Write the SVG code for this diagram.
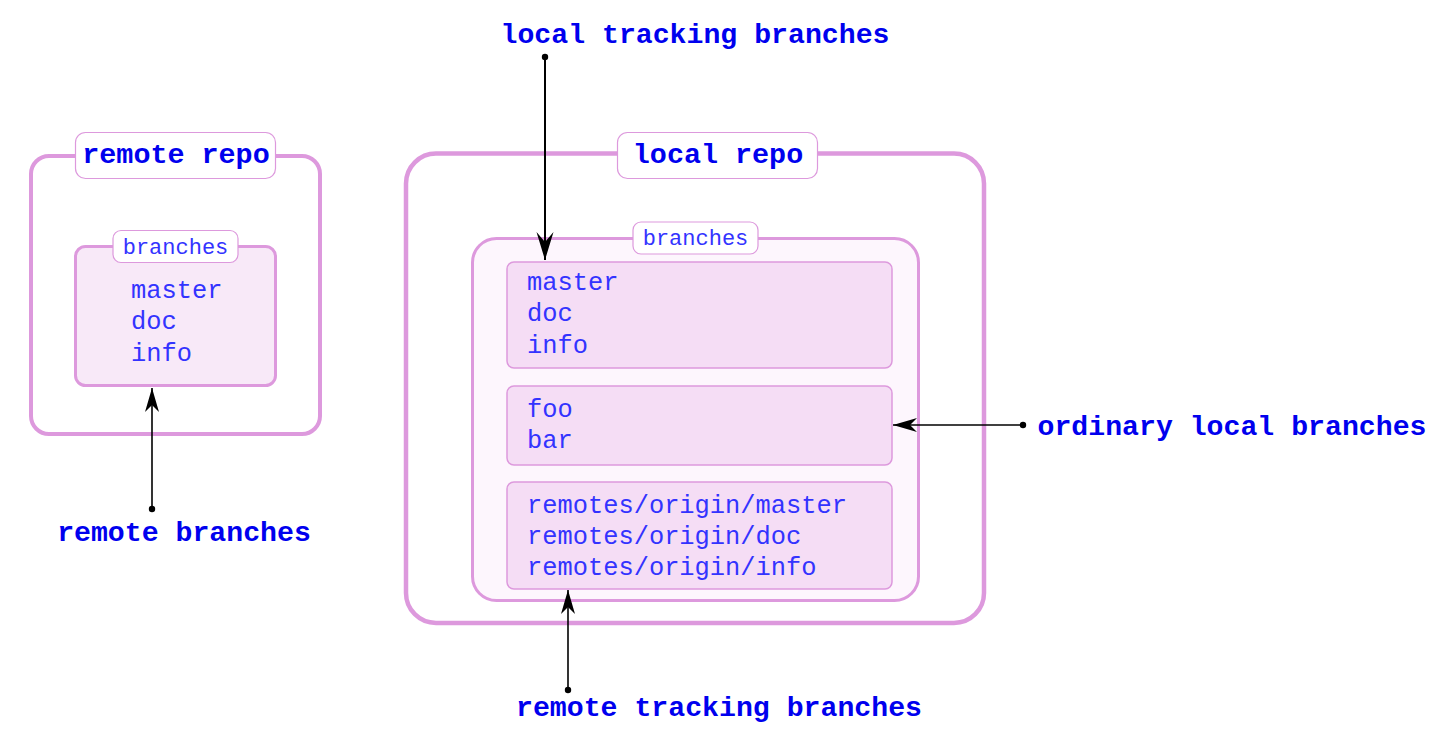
<svg xmlns="http://www.w3.org/2000/svg" width="1443" height="736" viewBox="0 0 1443 736">
<defs>
<style>
.repo{fill:none;stroke:#dd99dd}
.tbox{fill:#ffffff;stroke:#dd99dd;stroke-width:1.2}
.title{font-family:"Liberation Mono","Courier New",monospace;font-weight:bold;font-size:28.4px;fill:#0000ee;text-anchor:middle}
.lbl{font-family:"Liberation Mono","Courier New",monospace;font-weight:bold;font-size:28.2px;fill:#0000ee;text-anchor:middle}
.sub{font-family:"Liberation Mono","Courier New",monospace;font-size:22px;fill:#3333ff;text-anchor:middle}
.item{font-family:"Liberation Mono","Courier New",monospace;font-size:25.4px;fill:#3333ff}
.leaf{fill:#f5ddf5;stroke:#dd99dd;stroke-width:1.5}
.conn{stroke:#000000;fill:none}
</style>
<marker id="head" markerUnits="userSpaceOnUse" viewBox="-26 -9 28 18" refX="0" refY="0" markerWidth="28" markerHeight="18" orient="auto">
<path d="M0,0 L-24,-7 L-17,0 L-24,7 Z" fill="#000"/>
</marker>
<marker id="headBig" markerUnits="userSpaceOnUse" viewBox="-30 -10 32 20" refX="0" refY="0" markerWidth="32" markerHeight="20" orient="auto">
<path d="M0,0 L-28,-8.5 L-18,0 L-28,8.5 Z" fill="#000"/>
</marker>
<marker id="dot" markerUnits="userSpaceOnUse" viewBox="-4 -4 8 8" refX="0" refY="0" markerWidth="8" markerHeight="8">
<circle cx="0" cy="0" r="3.2" fill="#000"/>
</marker>
</defs>
<rect width="1443" height="736" fill="#ffffff"/>

<g id="remote-repo">
<rect class="repo" x="31" y="156" width="289" height="278" rx="18" stroke-width="4"/>
<rect class="tbox" x="75.5" y="132.5" width="200" height="46" rx="10"/>
<text class="title" x="176" y="163">remote repo</text>
</g>
<g id="remote-branches">
<rect x="75.5" y="246.5" width="200" height="139" rx="10" fill="#f8e9f8" stroke="#dd99dd" stroke-width="3"/>
<rect class="tbox" x="113" y="230.5" width="125" height="32" rx="8"/>
<text class="sub" x="175.5" y="253.5">branches</text>
<text class="item" x="131" y="297.5">master</text>
<text class="item" x="131" y="329">doc</text>
<text class="item" x="131" y="361">info</text>
</g>

<g id="local-repo">
<rect class="repo" x="406" y="153.5" width="578" height="469.5" rx="30" stroke-width="4.5"/>
<rect class="tbox" x="617.5" y="132.5" width="200" height="46" rx="10"/>
<text class="title" x="718" y="163">local repo</text>
</g>
<g id="local-branches">
<rect x="472.5" y="238.5" width="446" height="362" rx="24" fill="#fdf6fd" stroke="#dd99dd" stroke-width="3"/>
<rect class="tbox" x="633" y="222" width="125" height="32" rx="8"/>
<text class="sub" x="695.5" y="245">branches</text>
</g>
<g id="tracking-box">
<rect class="leaf" x="507" y="262" width="385" height="106" rx="7"/>
<text class="item" x="527" y="289.5">master</text>
<text class="item" x="527" y="321">doc</text>
<text class="item" x="527" y="352.5">info</text>
</g>
<g id="ordinary-box">
<rect class="leaf" x="507" y="386" width="385" height="79" rx="7"/>
<text class="item" x="527" y="416.5">foo</text>
<text class="item" x="527" y="448">bar</text>
</g>
<g id="remotes-box">
<rect class="leaf" x="507" y="482" width="385" height="107" rx="7"/>
<text class="item" x="527" y="512.5">remotes/origin/master</text>
<text class="item" x="527" y="544">remotes/origin/doc</text>
<text class="item" x="527" y="575">remotes/origin/info</text>
</g>

<g id="label-local-tracking"><text class="lbl" x="695" y="43">local tracking branches</text></g>
<g id="label-remote-branches"><text class="lbl" x="184" y="540.5">remote branches</text></g>
<g id="label-ordinary"><text class="lbl" x="1232" y="434.5">ordinary local branches</text></g>
<g id="label-remote-tracking"><text class="lbl" x="719" y="716">remote tracking branches</text></g>

<g id="connectors">
<line class="conn" x1="545" y1="57" x2="545" y2="260" stroke-width="2" marker-start="url(#dot)" marker-end="url(#headBig)"/>
<line class="conn" x1="152" y1="509" x2="152" y2="388" stroke-width="1.6" marker-start="url(#dot)" marker-end="url(#head)"/>
<line class="conn" x1="1023" y1="425" x2="893" y2="425" stroke-width="1.6" marker-start="url(#dot)" marker-end="url(#head)"/>
<line class="conn" x1="568" y1="690" x2="568" y2="590" stroke-width="1.6" marker-start="url(#dot)" marker-end="url(#head)"/>
</g>
</svg>
